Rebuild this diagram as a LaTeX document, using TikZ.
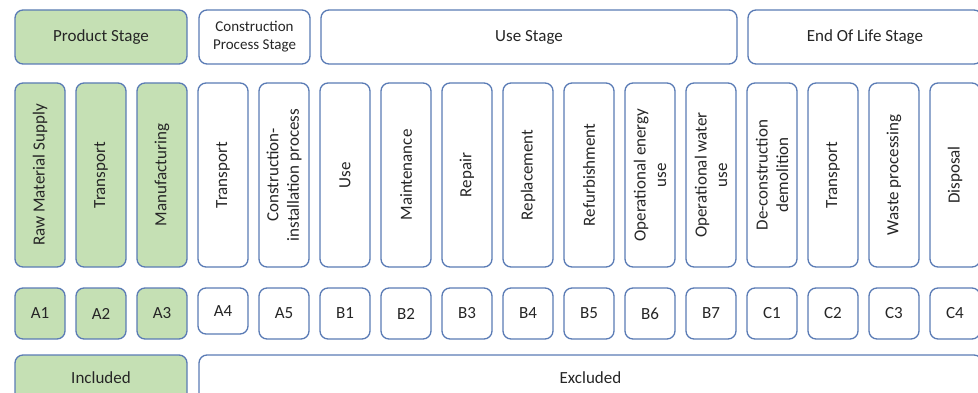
\documentclass[tikz,border=0pt]{standalone}
\usepackage{fontspec}
\setmainfont{Carlito}
\definecolor{strk}{HTML}{5A7BB5}
\definecolor{grn}{HTML}{C5E0B4}
\definecolor{txt}{HTML}{262626}
\begin{document}
\begin{tikzpicture}[x=1pt,y=-1pt,
  box/.style={draw=strk,line width=1.3pt,rounded corners=8pt,inner sep=0pt,text=txt,
              font=\fontsize{17}{20.5}\selectfont,align=center},
  inc/.style={box,fill=grn},
  exc/.style={box,fill=white},
  vbox/.style={rotate=90,minimum width=184pt,minimum height=50pt},
  cbox/.style={minimum width=50pt,minimum height=51pt}]
\useasboundingbox (0,0) rectangle (978,393);
\clip (0,0) rectangle (978,393);
% stage row
\node[inc,minimum width=172pt,minimum height=54pt] (ps) at (101,37) {Product Stage};
\node[exc,minimum width=111pt,minimum height=54pt,font=\fontsize{15}{18}\selectfont] (cs) at (254.5,37) {Construction\\Process Stage};
\node[exc,minimum width=416pt,minimum height=54pt] (us) at (529,37) {Use Stage};
\node[exc,minimum width=234pt,minimum height=54pt] (es) at (865,37) {End Of Life Stage};
% module row
\foreach \i/\nm/\lab/\sty in {
  1/a1/{Raw Material Supply}/inc,
  2/a2/{Transport}/inc,
  3/a3/{Manufacturing}/inc,
  4/a4/{Transport}/exc,
  5/a5/{Construction-\\installation process}/exc,
  6/b1/{Use}/exc,
  7/b2/{Maintenance}/exc,
  8/b3/{Repair}/exc,
  9/b4/{Replacement}/exc,
  10/b5/{Refurbishment}/exc,
  11/b6/{Operational energy\\use}/exc,
  12/b7/{Operational water\\use}/exc,
  13/c1/{De-construction\\demolition}/exc,
  14/c2/{Transport}/exc,
  15/c3/{Waste processing}/exc,
  16/c4/{Disposal}/exc}
{
  \node[\sty,vbox] (\nm v) at ({40+61*(\i-1)},175) {\lab};
}
% code row
\foreach \i/\nm/\sty in {1/A1/inc,2/A2/inc,3/A3/inc,5/A5/exc,6/B1/exc,7/B2/exc,8/B3/exc,
  9/B4/exc,10/B5/exc,11/B6/exc,12/B7/exc,13/C1/exc,14/C2/exc,15/C3/exc,16/C4/exc}
{
  \node[\sty,cbox] (\nm c) at ({40+61*(\i-1)},313.5) {\nm};
}
\node[exc,minimum width=50pt,minimum height=46pt] (A4c) at (223,311) {A4};
% bottom row
\node[inc,minimum width=172pt,minimum height=46pt] (inc) at (101,378) {Included};
\node[exc,minimum width=783pt,minimum height=46pt] (exc) at (590.5,378) {Excluded};
\end{tikzpicture}
\end{document}
